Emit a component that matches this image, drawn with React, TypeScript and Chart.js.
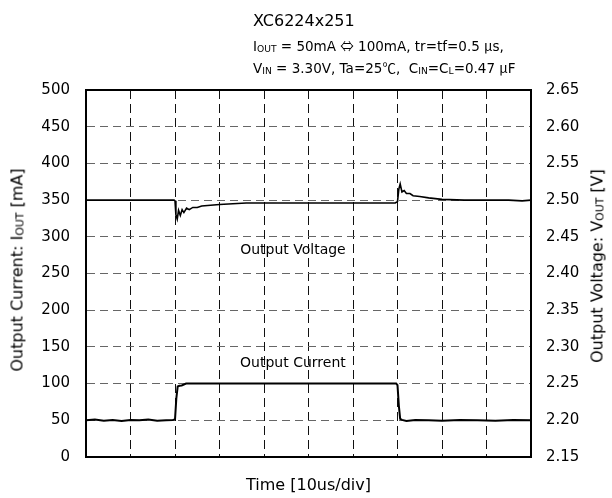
import React, { useEffect, useRef } from "react";
import { Chart, registerables } from "chart.js";
Chart.register(...registerables);

// Time in divisions (10 us/div)
const currentTime = [0, 0.2, 0.4, 0.6, 0.8, 1.0, 1.2, 1.4, 1.6, 1.8, 1.95, 2.0, 2.03, 2.06, 2.1, 2.15, 2.25, 2.6, 3, 4, 5, 6, 6.9, 6.97, 7.0, 7.03, 7.06, 7.1, 7.2, 7.4, 7.7, 8.0, 8.4, 8.8, 9.2, 9.6, 10];
const currentValues = [50, 51, 49.5, 50.5, 49, 50.5, 50, 51, 49.5, 50, 50.5, 51, 80, 96, 97, 97.5, 100, 100, 100, 100, 100, 100, 100, 100, 98, 70, 52, 50.5, 49, 50.5, 50, 49.5, 50.5, 50, 49.5, 50.5, 50];

const voltageTime = [0, 0.5, 1.0, 1.5, 1.98, 2.0, 2.02, 2.05, 2.08, 2.12, 2.16, 2.2, 2.26, 2.32, 2.4, 2.5, 2.6, 2.8, 3.0, 3.3, 3.6, 4, 5, 6, 6.95, 7.0, 7.03, 7.06, 7.1, 7.15, 7.2, 7.28, 7.35, 7.5, 7.7, 8.0, 8.5, 9.0, 9.5, 9.8, 10];
const voltageValues = [2.5, 2.5, 2.5, 2.5, 2.5, 2.499, 2.48, 2.474, 2.486, 2.479, 2.487, 2.483, 2.489, 2.487, 2.49, 2.49, 2.492, 2.493, 2.494, 2.495, 2.496, 2.496, 2.496, 2.496, 2.496, 2.498, 2.515, 2.522, 2.511, 2.513, 2.509, 2.509, 2.506, 2.505, 2.503, 2.501, 2.5, 2.5, 2.5, 2.499, 2.5];

const currentTicks = [0, 50, 100, 150, 200, 250, 300, 350, 400, 450, 500];
const voltageTicks = [2.15, 2.2, 2.25, 2.3, 2.35, 2.4, 2.45, 2.5, 2.55, 2.6, 2.65];
const timeTicks = [0, 1, 2, 3, 4, 5, 6, 7, 8, 9, 10];

const FONT = "'DejaVu Sans', 'Noto Sans CJK JP', sans-serif";
const CJK = "'Noto Sans CJK JP', 'DejaVu Sans', sans-serif";

const framePlugin = {
  id: "frameAndLabels",
  afterDraw(chart: any) {
    const { ctx, chartArea, scales } = chart;
    ctx.save();
    ctx.strokeStyle = "#000";
    ctx.lineWidth = 2;
    ctx.beginPath();
    ctx.moveTo(chartArea.left, chartArea.top);
    ctx.lineTo(chartArea.right, chartArea.top);
    ctx.stroke();
    ctx.fillStyle = "#000";
    ctx.font = "14px " + FONT;
    ctx.textAlign = "center";
    ctx.textBaseline = "middle";
    ctx.fillText("Output Voltage", scales.x.getPixelForValue(4.65), scales.y.getPixelForValue(282));
    ctx.fillText("Output Current", scales.x.getPixelForValue(4.65), scales.y.getPixelForValue(127));
    ctx.restore();
  },
};

export default function App() {
  const canvasRef = useRef<HTMLCanvasElement>(null);

  useEffect(() => {
    document.body.style.margin = "0";
    const chart = new Chart(canvasRef.current!, {
      type: "scatter",
      data: {
        datasets: [
          {
            label: "Output Current",
            data: currentTime.map((t, i) => ({ x: t, y: currentValues[i] })),
            showLine: true,
            borderColor: "#000",
            borderWidth: 2,
            pointRadius: 0,
            yAxisID: "y",
          },
          {
            label: "Output Voltage",
            data: voltageTime.map((t, i) => ({ x: t, y: voltageValues[i] })),
            showLine: true,
            borderColor: "#000",
            borderWidth: 1.6,
            pointRadius: 0,
            yAxisID: "y2",
          },
        ],
      },
      options: {
        animation: false,
        responsive: false,
        layout: { padding: { top: 90, left: 0, right: 0, bottom: 0 } },
        plugins: { legend: { display: false }, tooltip: { enabled: false } },
        scales: {
          x: {
            type: "linear",
            min: 0,
            max: 10,
            afterBuildTicks: (s: any) => { s.ticks = timeTicks.map((v) => ({ value: v })); },
            afterFit: (s: any) => { s.height = 41; },
            ticks: { display: false },
            grid: { color: "#111", lineWidth: 1, drawTicks: false },
            border: { display: true, color: "#000", width: 2, dash: [9, 5] },
            title: {
              display: true,
              text: "Time [10us/div]",
              color: "#000",
              font: { family: FONT, size: 16 },
              padding: { top: 0, bottom: 3 },
            },
          },
          y: {
            type: "linear",
            position: "left",
            min: 0,
            max: 500,
            afterBuildTicks: (s: any) => { s.ticks = currentTicks.map((v) => ({ value: v })); },
            afterFit: (s: any) => { s.width = 86; },
            ticks: { color: "#000", font: { family: FONT, size: 15 }, padding: 16 },
            grid: { color: "#666", lineWidth: 1, drawTicks: false },
            border: { display: true, color: "#000", width: 2, dash: [8, 5] },
          },
          y2: {
            type: "linear",
            position: "right",
            min: 2.15,
            max: 2.65,
            afterBuildTicks: (s: any) => { s.ticks = voltageTicks.map((v) => ({ value: v })); },
            afterFit: (s: any) => { s.width = 81; },
            ticks: {
              color: "#000",
              font: { family: FONT, size: 15 },
              padding: 15,
              callback: (v: any) => Number(v).toFixed(2),
            },
            grid: { drawOnChartArea: false, drawTicks: false },
            border: { display: true, color: "#000", width: 2 },
          },
        },
      },
      plugins: [framePlugin],
    } as any);
    return () => chart.destroy();
  }, []);

  const sub: React.CSSProperties = { fontSize: "0.68em", verticalAlign: "-0.1em" };
  const cjk: React.CSSProperties = { fontFamily: CJK };

  return (
    <div style={{ position: "relative", width: 612, height: 498, fontFamily: FONT, color: "#000" }}>
      <canvas ref={canvasRef} width={612} height={498} style={{ position: "absolute", left: 0, top: 0 }} />
      <div style={{ position: "absolute", left: 253, top: 11, fontSize: 16, lineHeight: "20px", whiteSpace: "nowrap" }}>
        XC6224x251
      </div>
      <div style={{ position: "absolute", left: 253, top: 36, fontSize: 13.5, lineHeight: "18px", whiteSpace: "nowrap" }}>
        I<span style={sub}>OUT</span> = 50mA <span style={cjk}>⇔</span> 100mA, tr=tf=0.5 <span style={cjk}>μ</span>s,
      </div>
      <div style={{ position: "absolute", left: 253, top: 58, fontSize: 13.5, lineHeight: "18px", whiteSpace: "nowrap" }}>
        V<span style={sub}>IN</span> = 3.30V, Ta=25<span style={cjk}>℃</span>,&nbsp; C<span style={sub}>IN</span>=C<span style={sub}>L</span>=0.47 <span style={cjk}>μ</span>F
      </div>
      <div style={{ position: "absolute", left: 19, top: 270, fontSize: 16, lineHeight: "18px", whiteSpace: "nowrap", transform: "translate(-50%, -50%) rotate(-90deg)" }}>
        Output Current: I<span style={sub}>OUT</span> [mA]
      </div>
      <div style={{ position: "absolute", left: 599, top: 266, fontSize: 16, lineHeight: "18px", whiteSpace: "nowrap", transform: "translate(-50%, -50%) rotate(-90deg)" }}>
        Output Voltage: V<span style={sub}>OUT</span> [V]
      </div>
    </div>
  );
}
